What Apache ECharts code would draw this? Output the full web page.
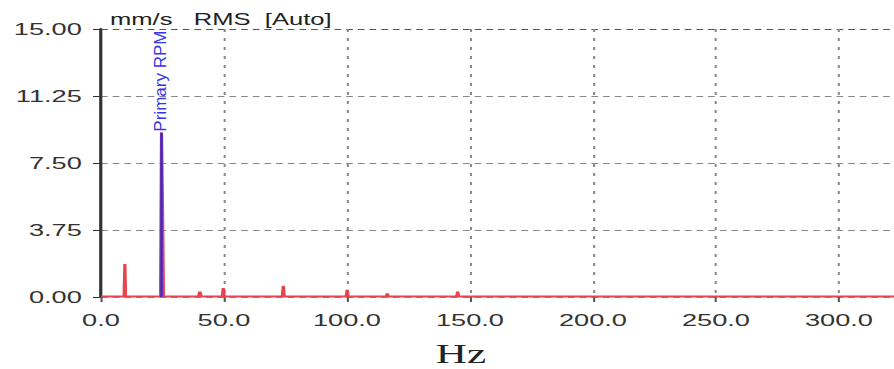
<!DOCTYPE html>
<html>
<head>
<meta charset="utf-8">
<script src="https://cdn.jsdelivr.net/npm/echarts@6/dist/echarts.min.js"></script>
<style>
html,body{margin:0;padding:0;background:#fff;overflow:hidden;width:894px;height:369px;}
#chart{width:559px;height:369px;transform:scaleX(1.599284);transform-origin:0 0;}
</style>
</head>
<body>
<div id="chart"></div>
<script>
// ---- data ----
const specHz  = [0, 9.4, 9.7, 10.0, 24.2, 24.6, 25.0, 25.4, 39.6, 40.2, 40.8, 49.3, 49.7, 50.1, 73.7, 74.1, 74.5, 99.7, 100.1, 100.5, 116.0, 116.4, 116.8, 144.6, 145.0, 145.4, 322.4];
const specAmp = [0.03, 0.03, 1.85, 0.03, 0.03, 9.2, 5.05, 0.03, 0.03, 0.3, 0.03, 0.03, 0.5, 0.03, 0.03, 0.63, 0.03, 0.03, 0.4, 0.03, 0.03, 0.2, 0.03, 0.03, 0.3, 0.03, 0.03];
const markerHz = 24.6;
const markerAmp = 9.2;
const markerLabel = 'Primary RPM';
const yTicks = [0, 3.75, 7.5, 11.25, 15];
const xTicks = [0, 50, 100, 150, 200, 250, 300];
const xMax = 322.4;
const titleText = 'mm/s   RMS  [Auto]';
const xName = 'Hz';

const S = 894 / 559;
const chart = echarts.init(document.getElementById('chart'), null, {renderer: 'svg'});
const sans = '"Liberation Sans", Arial, sans-serif';

chart.setOption({
  animation: false,
  backgroundColor: '#fff',
  grid: {left: 101 / S, right: 0, top: 29, bottom: 72, containLabel: false},
  xAxis: {
    type: 'value', min: xTicks[0], max: xMax, interval: xTicks[1] - xTicks[0],
    axisLine: {show: false},
    axisTick: {show: true, length: 5, lineStyle: {color: '#555', width: 1.3}},
    axisLabel: {
      margin: 14, color: '#333', fontSize: 17, fontFamily: sans,
      showMaxLabel: false,
      formatter: v => v.toFixed(1)
    },
    splitLine: {show: true, showMinLine: false, showMaxLine: false,
      lineStyle: {color: '#8a8a8a', width: 1.3, type: [3, 6]}}
  },
  yAxis: {
    type: 'value', min: yTicks[0], max: yTicks[yTicks.length - 1], interval: yTicks[1] - yTicks[0],
    axisLine: {show: true, lineStyle: {color: '#333', width: 2}},
    axisTick: {show: true, length: 5, lineStyle: {color: '#333', width: 1}},
    axisLabel: {margin: 12, color: '#333', fontSize: 17, fontFamily: sans, formatter: v => v.toFixed(2)},
    splitLine: {show: true, lineStyle: {color: ['#888', '#888', '#888', '#888', '#555'], width: 1, type: [4.2, 3.1]}}
  },
  graphic: [
    {type: 'text', x: 110 / S, y: 20, style: {text: titleText, fill: '#222', font: '16px ' + sans, align: 'left', verticalAlign: 'middle'}},
    {type: 'text', x: 461 / S, y: 354, style: {text: xName, fill: '#222', font: '27px "Liberation Serif", "Times New Roman", serif', align: 'center', verticalAlign: 'middle'}}
  ],
  series: [
    {
      type: 'line',
      data: specHz.map((x, i) => [x, specAmp[i]]),
      symbol: 'none',
      lineStyle: {color: '#e6444e', width: 2},
      z: 2
    },
    {
      type: 'custom',
      data: [[markerHz, markerAmp]],
      z: 3,
      renderItem: (params, api) => {
        const p0 = api.coord([api.value(0), 0]);
        const p1 = api.coord([api.value(0), api.value(1)]);
        return {
          type: 'group',
          children: [
            {type: 'line', shape: {x1: p0[0], y1: p0[1], x2: p1[0], y2: p1[1]},
             style: {stroke: '#2b2be0', lineWidth: 1.5}},
            {type: 'text', x: p1[0] - 0.8, y: p1[1] - 1, rotation: Math.PI / 2, scaleX: 1.7,
             style: {text: markerLabel, fill: '#3535e6', font: '10px ' + sans, align: 'left', verticalAlign: 'middle'}}
          ]
        };
      }
    }
  ]
});
</script>
</body>
</html>
